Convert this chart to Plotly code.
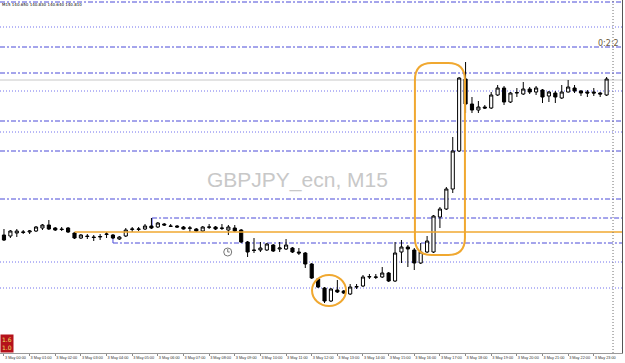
import plotly.graph_objects as go

# ---- data (GBPJPY_ecn, M15, 3 May) ----
hours = ["%02d:00" % h for h in range(24)]
tick_labels = ["3 May " + h for h in hours]

open_ = [139.25, 139.24, 139.27, 139.275, 139.28, 139.29, 139.32, 139.35, 139.32, 139.31,
         139.32, 139.27, 139.22, 139.24, 139.23, 139.23, 139.255, 139.25, 139.21, 139.24,
         139.305, 139.305, 139.31, 139.34, 139.33, 139.36, 139.34, 139.34, 139.33, 139.317,
         139.31, 139.29, 139.327, 139.33, 139.32, 139.30, 139.32, 139.30, 139.18, 139.10,
         139.10, 139.10, 139.15, 139.11, 139.11, 139.12, 139.08, 139.07, 138.96, 138.81,
         138.72, 138.59, 138.70, 138.69, 138.66, 138.73, 138.74, 138.83, 138.826, 138.83,
         138.87, 138.79, 139.08, 139.13, 139.10, 138.97, 139.08, 139.08, 139.43, 139.51,
         139.71, 140.09, 140.81, 140.56, 140.50, 140.53, 140.52, 140.65, 140.72, 140.58,
         140.67, 140.66, 140.71, 140.68, 140.70, 140.64, 140.67, 140.62, 140.68, 140.72,
         140.69, 140.68, 140.68, 140.67, 140.65]
high = [139.31, 139.30, 139.31, 139.30, 139.30, 139.34, 139.36, 139.40, 139.33, 139.33,
        139.33, 139.28, 139.26, 139.26, 139.25, 139.26, 139.28, 139.26, 139.24, 139.32,
        139.33, 139.33, 139.36, 139.42, 139.38, 139.37, 139.36, 139.35, 139.34, 139.34,
        139.32, 139.34, 139.36, 139.34, 139.36, 139.35, 139.35, 139.31, 139.19, 139.22,
        139.18, 139.17, 139.16, 139.18, 139.21, 139.13, 139.12, 139.08, 138.97, 138.82,
        138.73, 138.72, 138.80, 138.70, 138.76, 138.76, 138.85, 138.86, 138.86, 138.93,
        138.88, 139.18, 139.20, 139.15, 139.12, 139.17, 139.24, 139.45, 139.53, 139.73,
        140.23, 140.83, 140.98, 140.63, 140.59, 140.55, 140.68, 140.75, 140.74, 140.68,
        140.72, 140.78, 140.73, 140.74, 140.71, 140.69, 140.69, 140.75, 140.80, 140.75,
        140.70, 140.70, 140.72, 140.68, 140.83]
low = [139.19, 139.22, 139.23, 139.26, 139.26, 139.28, 139.30, 139.30, 139.29, 139.29,
       139.27, 139.21, 139.21, 139.21, 139.19, 139.20, 139.22, 139.21, 139.20, 139.23,
       139.28, 139.29, 139.30, 139.31, 139.32, 139.34, 139.33, 139.32, 139.305, 139.28,
       139.28, 139.28, 139.31, 139.30, 139.30, 139.25, 139.28, 139.17, 139.03, 139.07,
       139.08, 139.09, 139.08, 139.08, 139.10, 139.07, 139.05, 138.92, 138.81, 138.72,
       138.57, 138.58, 138.67, 138.66, 138.65, 138.71, 138.73, 138.81, 138.81, 138.82,
       138.78, 138.78, 138.97, 138.93, 138.90, 138.96, 139.07, 139.07, 139.32, 139.50,
       139.67, 140.08, 140.47, 140.47, 140.47, 140.51, 140.51, 140.64, 140.55, 140.57,
       140.63, 140.65, 140.66, 140.65, 140.57, 140.58, 140.57, 140.61, 140.675, 140.67,
       140.64, 140.63, 140.64, 140.63, 140.64]
close = [139.20, 139.29, 139.29, 139.28, 139.29, 139.33, 139.35, 139.31, 139.30, 139.305,
         139.28, 139.22, 139.25, 139.235, 139.225, 139.235, 139.26, 139.22, 139.23, 139.30,
         139.31, 139.31, 139.34, 139.32, 139.37, 139.35, 139.337, 139.33, 139.31, 139.32,
         139.29, 139.33, 139.33, 139.31, 139.317, 139.33, 139.29, 139.18, 139.08, 139.096,
         139.12, 139.16, 139.09, 139.12, 139.15, 139.08, 139.07, 138.96, 138.82, 138.73,
         138.59, 138.71, 138.68, 138.67, 138.73, 138.734, 138.83, 138.834, 138.83, 138.87,
         138.79, 139.07, 139.13, 139.11, 138.97, 139.08, 139.19, 139.44, 139.51, 139.71,
         140.09, 140.82, 140.56, 140.50, 140.53, 140.52, 140.65, 140.72, 140.58, 140.67,
         140.674, 140.71, 140.68, 140.72, 140.63, 140.68, 140.63, 140.68, 140.73, 140.69,
         140.67, 140.67, 140.67, 140.66, 140.81]

dashdot_levels = [141.58, 141.13, 140.87, 140.39, 140.09, 139.61]
dotted_levels = [141.33, 140.69, 140.28, 138.98, 138.72]
partial_levels = [(23.1, 139.42, 139.34), (17.0, 139.17, 139.23)]  # (start candle, level, tick end)
orange_level = (11.0, 139.28)

n = len(open_)
x = list(range(n))

fig = go.Figure()
fig.add_trace(go.Candlestick(
    x=x, open=open_, high=high, low=low, close=close,
    increasing=dict(line=dict(color="#000000", width=1), fillcolor="#ffffff"),
    decreasing=dict(line=dict(color="#000000", width=1), fillcolor="#000000"),
    whiskerwidth=0, showlegend=False, hoverinfo="skip"))

shapes = []
BLUE = "#4a4ad8"
LBLUE = "#7070ee"
DD = "5px,2px,2px,2px"
DOT = "1px,2px"
for lv in dashdot_levels:
    shapes.append(dict(type="line", xref="paper", x0=0, x1=1, yref="y", y0=lv, y1=lv,
                       line=dict(color=BLUE, width=1, dash=DD), layer="below"))
for lv in dotted_levels:
    shapes.append(dict(type="line", xref="paper", x0=0, x1=1, yref="y", y0=lv, y1=lv,
                       line=dict(color=LBLUE, width=1, dash=DOT), layer="below"))
for xs, lv, tk in partial_levels:
    shapes.append(dict(type="line", xref="x", x0=xs, x1=97, yref="y", y0=lv, y1=lv,
                       line=dict(color=BLUE, width=1, dash=DD), layer="below"))
    shapes.append(dict(type="line", xref="x", x0=xs, x1=xs, yref="y", y0=lv, y1=tk,
                       line=dict(color=BLUE, width=1), layer="below"))
# bid line
shapes.append(dict(type="line", xref="paper", x0=0, x1=1, yref="y", y0=close[-1] - 0.01, y1=close[-1] - 0.01,
                   line=dict(color="#c8c8c8", width=1), layer="below"))
# orange horizontal line
shapes.append(dict(type="line", xref="x", x0=orange_level[0], x1=97, yref="y",
                   y0=orange_level[1], y1=orange_level[1],
                   line=dict(color="#f0a830", width=1.5)))
# vertical dotted shift line
shapes.append(dict(type="line", xref="x", x0=95, x1=95, yref="paper", y0=0, y1=1,
                   line=dict(color="#707070", width=1, dash="1px,2px")))

# rounded rectangle around the spike
rx0, rx1, ry0, ry1 = 64.1, 71.9, 139.05, 140.97
cx, cy = 2.6, 0.17
path = (f"M {rx0+cx},{ry1} L {rx1-cx},{ry1} Q {rx1},{ry1} {rx1},{ry1-cy} "
        f"L {rx1},{ry0+cy} Q {rx1},{ry0} {rx1-cx},{ry0} "
        f"L {rx0+cx},{ry0} Q {rx0},{ry0} {rx0},{ry0+cy} "
        f"L {rx0},{ry1-cy} Q {rx0},{ry1} {rx0+cx},{ry1} Z")
shapes.append(dict(type="path", xref="x", yref="y", path=path,
                   line=dict(color="#f0a830", width=2)))
# ellipse around the low
shapes.append(dict(type="circle", xref="x", yref="y", x0=48.05, x1=53.35, y0=138.54, y1=138.85,
                   line=dict(color="#f0a830", width=2)))
# clock icon
shapes.append(dict(type="circle", xref="x", yref="y", xsizemode="pixel", ysizemode="pixel",
                   xanchor=34.9, yanchor=139.08, x0=-4, x1=4, y0=-4, y1=4,
                   line=dict(color="#777777", width=1)))
shapes.append(dict(type="path", xref="x", yref="y", xsizemode="pixel", ysizemode="pixel",
                   xanchor=34.9, yanchor=139.08, path="M 0,3 L 0,0 L 2,0",
                   line=dict(color="#777777", width=1)))

annotations = [
    dict(text="GBPJPY_ecn, M15", xref="paper", yref="paper", x=0.478, y=0.49,
         showarrow=False, font=dict(family="Liberation Sans, Arial", size=21, color="#c8c8c8")),
    dict(text="0:2:2", xref="paper", yref="paper", x=0.999, y=0.895, xanchor="right", showarrow=False,
         font=dict(family="DejaVu Sans", size=8, color="#6b5a3a")),
    dict(text="M15 %.3f %.3f %.3f %.3f" % (open_[-1], high[-1], low[-1], close[-1]),
         xref="paper", yref="paper", x=0.0, y=1.0, xanchor="left", yanchor="top",
         showarrow=False, font=dict(family="DejaVu Sans", size=4, color="#000000")),
    dict(text="1.6<br>1.0", xref="paper", yref="paper", x=0.0, y=0.0, xanchor="left", yanchor="bottom",
         showarrow=False, bgcolor="#b5121b", borderpad=1,
         font=dict(family="DejaVu Sans", size=6, color="#f0e060")),
]

fig.update_layout(
    width=625, height=363,
    margin=dict(l=0, r=3, t=0, b=10, autoexpand=False),
    paper_bgcolor="white", plot_bgcolor="white",
    shapes=shapes, annotations=annotations,
    xaxis=dict(range=[-0.62, 96.4], rangeslider=dict(visible=False), showgrid=False, zeroline=False,
               tickmode="array", tickvals=list(range(0, 96, 4)), ticktext=tick_labels,
               tickangle=0, automargin=False,
               ticklabelposition="outside right", ticks="outside", ticklen=2, tickcolor="#888",
               tickfont=dict(family="Liberation Sans, Arial", size=3.8, color="#333"),
               showline=True, linecolor="#999", linewidth=1),
    yaxis=dict(range=[138.07, 141.60], side="right", showgrid=False, zeroline=False,
               showticklabels=False, showline=True, linecolor="#555", linewidth=1),
)

fig.write_html("out.html")
